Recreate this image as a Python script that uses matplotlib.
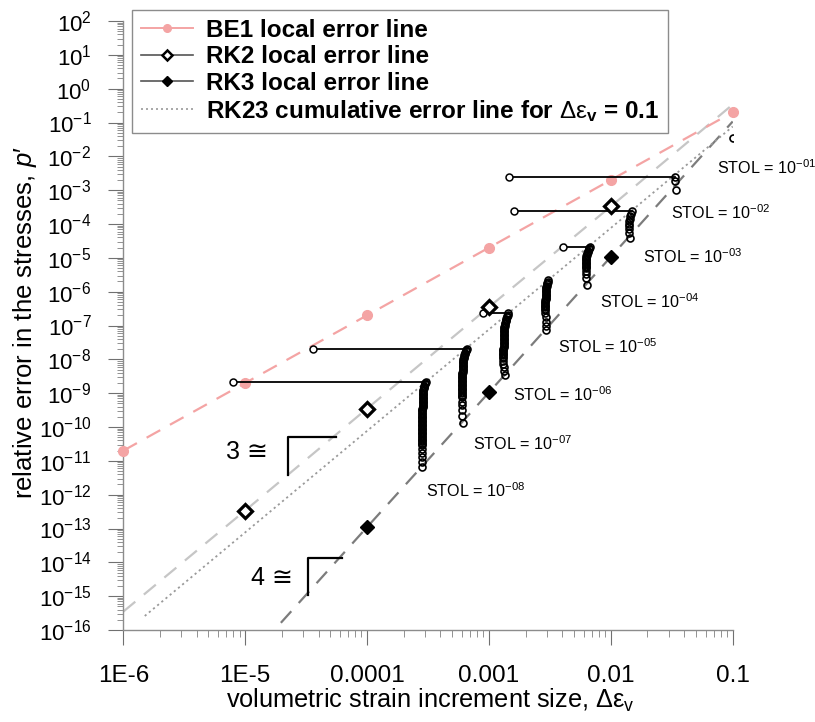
import numpy as np
import matplotlib
matplotlib.use('Agg')
import matplotlib.pyplot as plt
from matplotlib.lines import Line2D
from matplotlib.ticker import LogLocator, LogFormatterSciNotation, NullFormatter

plt.rcParams['font.family'] = ['Liberation Sans', 'DejaVu Sans']
plt.rcParams['mathtext.fontset'] = 'custom'
plt.rcParams['mathtext.rm'] = 'Liberation Sans'
plt.rcParams['mathtext.it'] = 'Liberation Sans:italic'
plt.rcParams['mathtext.bf'] = 'Liberation Sans:bold'
plt.rcParams['axes.unicode_minus'] = False

# 局部误差线 (步长 -> 相对误差)
de = [1e-6, 1e-5, 1e-4, 1e-3, 1e-2, 1e-1]
be1_err = [2e-11, 2e-9, 2e-7, 2e-5, 2e-3, 2e-1]
rk2_err = [3.5e-16, 3.4e-13, 3.5e-10, 3.5e-7, 3.3e-4, 3.4e-1]
rk3_de = [1e-5, 1e-4, 1e-3, 1e-2, 1e-1]
rk3_err = [1.1e-17, 1.1e-13, 1.05e-9, 1.07e-5, 1.07e-1]
rk23_de = [1.5e-6, 1e-1]
rk23_err = [2.6e-16, 7.6e-2]

xtick_vals = [1e-6, 1e-5, 1e-4, 1e-3, 1e-2, 1e-1]
xtick_labels = ['1E-6', '1E-5', '0.0001', '0.001', '0.01', '0.1']

# RK23 累积误差, 每个 STOL 一列点 (log10 值)
stol_exp = ['01', '02', '03', '04', '05', '06', '07', '08']

col_logx = [
    [-1.0],
    [-1.472, -1.472, -1.466],
    [-1.829, -1.835, -1.841, -1.846, -1.849, -1.852, -1.854, -1.854, -1.852, -1.843],
    [-2.171, -2.176, -2.181, -2.186, -2.190, -2.194, -2.197] + [-2.200] * 5 + [-2.203] * 5
    + [-2.203, -2.202, -2.200, -2.198],
    [-2.513, -2.517, -2.521, -2.524, -2.527, -2.530, -2.532] + [-2.534] * 8 + [-2.536] * 8
    + [-2.536, -2.535, -2.534, -2.533, -2.532],
    [-2.842, -2.846, -2.850, -2.854, -2.857, -2.860, -2.863, -2.866, -2.869, -2.871]
    + [-2.874] * 8 + [-2.879] * 8 + [-2.884] * 8
    + [-2.885, -2.883, -2.880, -2.875, -2.869],
    [-3.183, -3.187, -3.191, -3.195, -3.198, -3.201, -3.204, -3.207, -3.210, -3.212]
    + [-3.215] * 8 + [-3.219] * 10 + [-3.222] * 9
    + [-3.222, -3.221, -3.220, -3.218, -3.216],
    [-3.517, -3.521, -3.525, -3.529, -3.532, -3.535, -3.537, -3.539, -3.541, -3.543]
    + [-3.545] * 10 + [-3.548] * 15 + [-3.552] * 13 + [-3.553] * 5,
]
col_logy = [
    [-1.45],
    [-2.62, -2.72, -3.00],
    [-3.62, -3.69, -3.76, -3.84, -3.91, -3.99, -4.06, -4.15, -4.27, -4.42],
    [-4.67, -4.71, -4.75, -4.79, -4.83, -4.87, -4.91, -4.95, -4.99, -5.03,
     -5.07, -5.11, -5.15, -5.19, -5.23, -5.27, -5.31,
     -5.39, -5.49, -5.61, -5.80],
    [-5.66, -5.70, -5.74, -5.78, -5.82, -5.86, -5.90, -5.94, -5.98, -6.02,
     -6.06, -6.10, -6.14, -6.18, -6.22, -6.26, -6.30, -6.34, -6.38, -6.42,
     -6.46, -6.50, -6.54,
     -6.63, -6.75, -6.90, -7.02, -7.13],
    [-6.64, -6.68, -6.72, -6.76, -6.80, -6.84, -6.88, -6.92, -6.96, -7.00,
     -7.04, -7.08, -7.12, -7.16, -7.20, -7.24, -7.28, -7.32, -7.36, -7.40,
     -7.44, -7.48, -7.52, -7.56, -7.60, -7.64, -7.68, -7.72, -7.76, -7.80,
     -7.84, -7.88, -7.92, -7.96,
     -8.04, -8.14, -8.24, -8.34, -8.46],
    [-7.68, -7.72, -7.76, -7.80, -7.84, -7.88, -7.92, -7.96, -8.00, -8.04,
     -8.08, -8.12, -8.16, -8.20, -8.24, -8.28, -8.32, -8.36, -8.40, -8.44,
     -8.48, -8.52, -8.56, -8.60, -8.64, -8.68, -8.72, -8.76, -8.80, -8.84,
     -8.88, -8.92, -8.96, -9.00, -9.04, -9.08, -9.12,
     -9.25, -9.35, -9.50, -9.66, -9.87],
    [-8.66, -8.70, -8.74, -8.78, -8.82, -8.86, -8.90, -8.94, -8.98, -9.02,
     -9.06, -9.10, -9.14, -9.18, -9.22, -9.26, -9.30, -9.34, -9.38, -9.42,
     -9.46, -9.50, -9.54, -9.58, -9.62, -9.66, -9.70, -9.74, -9.78, -9.82,
     -9.86, -9.90, -9.94, -9.98, -10.02, -10.06, -10.10, -10.14, -10.18, -10.22,
     -10.26, -10.30, -10.34, -10.38, -10.42, -10.46, -10.50, -10.54,
     -10.66, -10.78, -10.90, -11.04, -11.19],
]
# 第一步的起点 (None 表示没有)
start_logx = [None, -2.836, -2.795, -2.393, None, -3.049, -4.444, -5.100]

# STOL 标注位置 (log10)
label_logx = [-1.130, -1.507, -1.737, -2.089, -2.434, -2.803, -3.131, -3.517]
label_logy = [-2.345, -3.675, -4.976, -6.306, -7.636, -9.055, -10.504, -11.893]

pink = '#f4a4a4'
light = '#c6c6c6'
dark = '#7c7c7c'
dotc = '#9a9a9a'

fig = plt.figure(figsize=(8.15, 7.22), dpi=100)
ax = fig.add_axes([0.1513, 0.1274, 0.7477, 0.8435])
ax.set_xscale('log')
ax.set_yscale('log')
ax.set_xlim(1e-6, 1e-1)
ax.set_ylim(1e-16, 1e2)

ax.plot(de, be1_err, color=pink, lw=1.6, dashes=(7, 5), marker='o', ms=7,
        mfc=pink, mec=pink, clip_on=False, zorder=3)
ax.plot(de, rk2_err, color=light, lw=1.6, dashes=(7, 5), clip_on=False, zorder=2)
ax.plot(rk3_de, rk3_err, color=dark, lw=1.6, dashes=(7, 5), zorder=2)
ax.plot(rk23_de, rk23_err, color=dotc, lw=1.3, linestyle=(0, (1.2, 1.8)), zorder=2)

ax.plot(de[1:5], rk2_err[1:5], ls='none', marker='D', ms=7, mfc='white',
        mec='black', mew=2.3, zorder=6)
ax.plot(rk3_de[1:4], rk3_err[1:4], ls='none', marker='D', ms=7.5, mfc='black',
        mec='black', zorder=6)

for i in range(len(stol_exp)):
    cx = 10 ** np.array(col_logx[i])
    cy = 10 ** np.array(col_logy[i])
    if start_logx[i] is not None:
        sx = 10 ** start_logx[i]
        ax.plot([sx, cx[0]], [cy[0], cy[0]], color='black', lw=1.3, zorder=4)
        ax.plot([sx], [cy[0]], ls='none', marker='o', ms=5, mfc='white',
                mec='black', mew=1.1, zorder=5)
    ax.plot(cx, cy, ls='none', marker='o', ms=5, mfc='none', mec='black',
            mew=1.2, zorder=5)
    ax.text(10 ** label_logx[i], 10 ** label_logy[i],
            'STOL = 10$^{-' + stol_exp[i] + '}$', fontsize=11.6,
            ha='left', va='center')

# 斜率标记
ax.plot([10 ** -4.646, 10 ** -4.646, 10 ** -4.255],
        [10 ** -11.42, 10 ** -10.288, 10 ** -10.288], color='black', lw=1.6)
ax.plot([10 ** -4.487, 10 ** -4.487, 10 ** -4.208],
        [10 ** -14.967, 10 ** -13.865, 10 ** -13.865], color='black', lw=1.6)
ax.text(10 ** -4.813, 10 ** -10.74, '3 \u2245', fontsize=18, ha='right', va='center')
ax.text(10 ** -4.608, 10 ** -14.465, '4 \u2245', fontsize=18, ha='right', va='center')

# 坐标轴
for s in ['top', 'right']:
    ax.spines[s].set_visible(False)
for s in ['left', 'bottom']:
    ax.spines[s].set_color('#8c8c8c')
    ax.spines[s].set_linewidth(1.0)

ax.yaxis.set_major_locator(LogLocator(base=10, numticks=40))
ax.yaxis.set_minor_locator(LogLocator(base=10, subs=np.arange(2, 10) * 1.0, numticks=40))
ax.yaxis.set_major_formatter(LogFormatterSciNotation())
ax.yaxis.set_minor_formatter(NullFormatter())
ax.set_xticks(xtick_vals)
ax.set_xticklabels(xtick_labels)
ax.xaxis.set_minor_locator(LogLocator(base=10, subs=np.arange(2, 10) * 1.0, numticks=40))
ax.xaxis.set_minor_formatter(NullFormatter())

ax.tick_params(axis='y', which='major', direction='out', length=11, width=0.8,
               color='#707070', labelsize=16, pad=12)
ax.tick_params(axis='y', which='minor', direction='out', length=4.5, width=0.6,
               color='#808080')
ax.tick_params(axis='x', which='major', direction='out', length=11, width=0.8,
               color='#707070', labelsize=17.5, pad=14)
ax.tick_params(axis='x', which='minor', direction='out', length=5, width=0.6,
               color='#808080')

fig.text(430 / 815, 1 - 700 / 722, 'volumetric strain increment size, \u0394\u03b5$_\\mathrm{v}$',
         fontsize=18.3, ha='center', va='center')
fig.text(25 / 815, 1 - 323 / 722, "relative error in the stresses, $\\mathit{p}$\u2032",
         fontsize=18.5, rotation=90, ha='center', va='center')

handles = [
    Line2D([], [], color=pink, lw=1.4, marker='o', ms=5.5, mfc=pink, mec=pink),
    Line2D([], [], color='#555555', lw=1.2, marker='D', ms=5, mfc='white',
           mec='black', mew=1.8),
    Line2D([], [], color='#555555', lw=1.2, marker='D', ms=5.5, mfc='black', mec='black'),
    Line2D([], [], color=dotc, lw=1.2, linestyle=(0, (1.2, 1.8))),
]
labels = ['BE1 local error line', 'RK2 local error line', 'RK3 local error line',
          'RK23 cumulative error line for $\\mathrm{\u0394\u03b5}_\\mathbf{v}$ = 0.1']
leg = ax.legend(handles, labels, loc='upper left',
                bbox_to_anchor=(132 / 815, 1 - 10 / 722), bbox_transform=fig.transFigure,
                prop={'weight': 'bold', 'size': 17.5}, handlelength=2.15,
                handletextpad=0.53, labelspacing=0.14, borderpad=0.36,
                borderaxespad=0, fancybox=False, framealpha=1, edgecolor='#8c8c8c')
leg.get_frame().set_linewidth(1.0)
leg.set_zorder(10)

fig.savefig('out.png', dpi=100, facecolor='white')
